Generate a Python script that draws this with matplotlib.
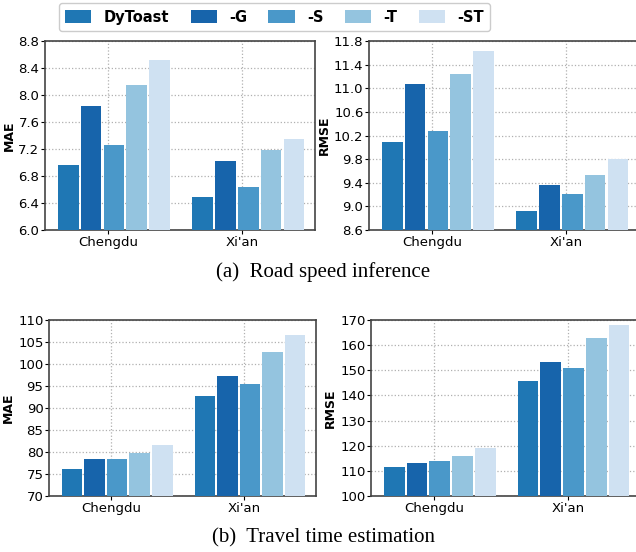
import matplotlib
matplotlib.use("Agg")
import matplotlib.pyplot as plt
import numpy as np

# data
cities = ["Chengdu", "Xi'an"]
variants = ["DyToast", "-G", "-S", "-T", "-ST"]
colors = ["#1f77b4", "#1764ab", "#4a98c9", "#94c4df", "#cfe1f2"]

speed_mae = [[6.96, 6.49], [7.84, 7.02], [7.26, 6.64], [8.15, 7.19], [8.52, 7.35]]
speed_rmse = [[10.09, 8.92], [11.07, 9.36], [10.28, 9.21], [11.24, 9.53], [11.63, 9.80]]
tte_mae = [[76.1, 92.7], [78.4, 97.3], [78.3, 95.5], [79.8, 102.7], [81.6, 106.6]]
tte_rmse = [[111.4, 145.7], [113.0, 153.3], [113.8, 150.9], [115.8, 162.8], [119.0, 168.0]]

W, H = 636, 552
fig = plt.figure(figsize=(W / 100, H / 100), dpi=100)


def px_axes(left, top, right, bottom):
    return fig.add_axes([left / W, 1 - bottom / H, (right - left) / W, (bottom - top) / H])


def draw(ax, values, ylabel, yticks):
    x = np.arange(len(cities))
    step = 0.17
    for i, (name, vals) in enumerate(zip(variants, values)):
        ax.bar(x + (i - 2) * step + 0.043, vals, width=0.155, color=colors[i],
               label=name, zorder=3)
    ax.set_xticks(x)
    ax.set_xticklabels(cities, fontsize=9.5)
    ax.set_xlim(-0.47, 1.54)
    ax.set_yticks(yticks)
    ax.set_ylim(yticks[0], yticks[-1])
    ax.tick_params(axis="y", labelsize=9.5, length=3, pad=1)
    ax.tick_params(axis="x", length=3, pad=1)
    ax.set_ylabel(ylabel, fontsize=9, fontweight="bold", labelpad=2)
    ax.grid(True, color="#b0b0b0", linestyle=":", linewidth=0.9, zorder=0)
    for s in ax.spines.values():
        s.set_color("#444444")
        s.set_linewidth(1.2)


ax1 = px_axes(45, 41, 315, 230)
draw(ax1, speed_mae, "MAE", [6.0, 6.4, 6.8, 7.2, 7.6, 8.0, 8.4, 8.8])
ax1.yaxis.set_major_formatter(matplotlib.ticker.FormatStrFormatter("%.1f"))
ax2 = px_axes(369, 41, 639, 230)
draw(ax2, speed_rmse, "RMSE", [8.6, 9.0, 9.4, 9.8, 10.2, 10.6, 11.0, 11.4, 11.8])
ax2.yaxis.set_major_formatter(matplotlib.ticker.FormatStrFormatter("%.1f"))
ax3 = px_axes(49, 320, 316, 496)
draw(ax3, tte_mae, "MAE", list(range(70, 111, 5)))
ax4 = px_axes(371, 320, 640, 496)
draw(ax4, tte_rmse, "RMSE", list(range(100, 171, 10)))

handles, labels = ax1.get_legend_handles_labels()
leg = fig.legend(handles, labels, loc="upper center", ncol=5,
                 bbox_to_anchor=(274.5 / W, 1 - 3 / H), borderaxespad=0,
                 prop={"weight": "bold", "size": 10.5},
                 handlelength=1.8, handleheight=0.9, handletextpad=0.85,
                 columnspacing=1.45, borderpad=0.45, fancybox=True,
                 edgecolor="#cccccc", framealpha=1)

fig.text(323 / W, 1 - 272 / H, "(a)  Road speed inference", ha="center", va="center",
         fontsize=15, family="Liberation Serif")
fig.text(323 / W, 1 - 538 / H, "(b)  Travel time estimation", ha="center", va="center",
         fontsize=15, family="Liberation Serif")

fig.savefig("out.png", dpi=100)
